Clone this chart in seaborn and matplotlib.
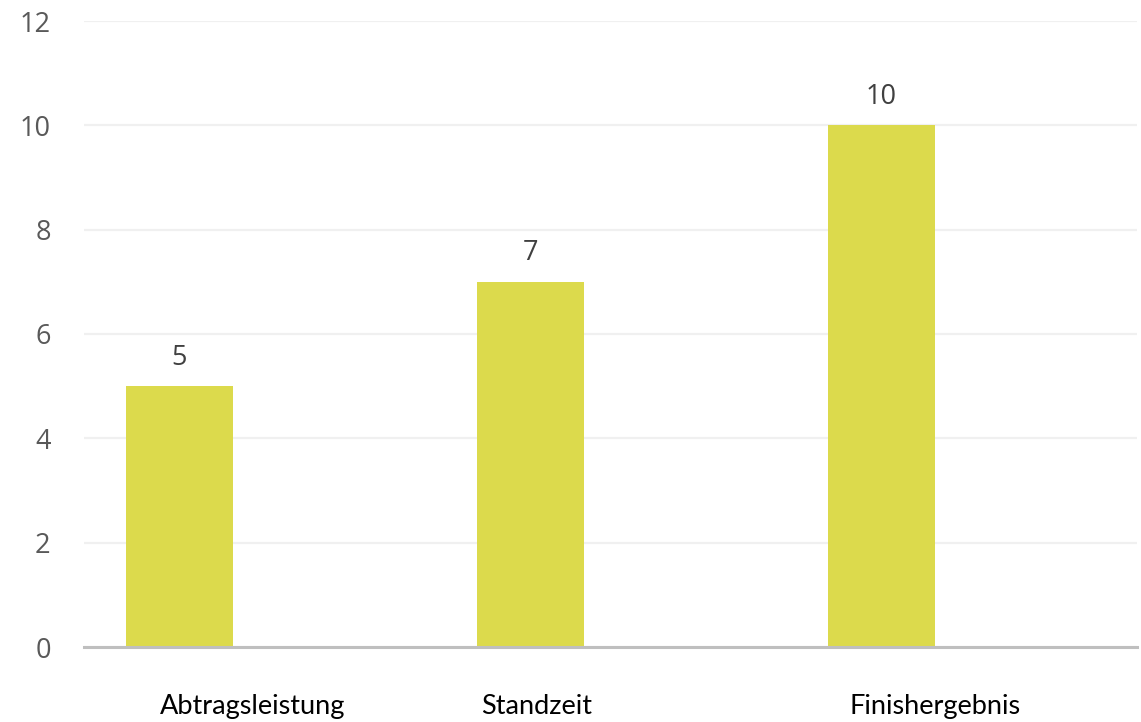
import matplotlib
matplotlib.use("Agg")
import matplotlib.pyplot as plt
import seaborn as sns
import pandas as pd
import numpy as np

categories = ["Abtragsleistung", "Standzeit", "Finishergebnis"]
values = [5, 7, 10]
y_ticks = [0, 2, 4, 6, 8, 10, 12]

# layout: horizontal offsets (in category units) of the axis labels vs. the bars
label_offsets = [0.207, 0.018, 0.152]

sns.set_theme(style="white")
plt.rcParams['font.family'] = ['Open Sans', 'DejaVu Sans']

fig = plt.figure(figsize=(11.41, 7.22), dpi=100)
ax = fig.add_axes([84/1141, 75/722, (1137-84)/1141, 626/722])

df = pd.DataFrame({"cat": categories, "val": values})
sns.barplot(data=df, x="cat", y="val", color="#DCDA4C", saturation=1,
            width=0.305, ax=ax, zorder=3, linewidth=0, edgecolor="none")

for p, v in zip(ax.patches, values):
    ax.annotate(f"{v}", (p.get_x() + p.get_width()/2, p.get_height()),
                xytext=(0, 10.5), textcoords="offset points",
                ha="center", va="bottom", fontsize=19.5, color="#404040")

ax.set_xlim(-0.272, 2.728)
ax.set_ylim(0, 12)
ax.set_yticks(y_ticks)
ax.set_yticklabels([str(t) for t in y_ticks], fontsize=19.5, color="#595959")
ax.yaxis.grid(True, color="#F0F0F0", linewidth=1.6, zorder=0)
ax.set_axisbelow(True)

pos = np.arange(len(categories)) + np.array(label_offsets)
ax.set_xticks(pos)
ax.set_xticklabels(categories, fontsize=19.5, color="#000000", family=['Lato', 'DejaVu Sans'])
ax.tick_params(axis="x", length=0, pad=34)
ax.tick_params(axis="y", length=0, pad=24)
ax.set_xlabel("")
ax.set_ylabel("")

for s in ["top", "right", "left"]:
    ax.spines[s].set_visible(False)
ax.spines["bottom"].set_color("#BFBFBF")
ax.spines["bottom"].set_linewidth(2.2)
ax.spines["bottom"].set_zorder(4)

fig.savefig("out.png", dpi=100, facecolor="white")
